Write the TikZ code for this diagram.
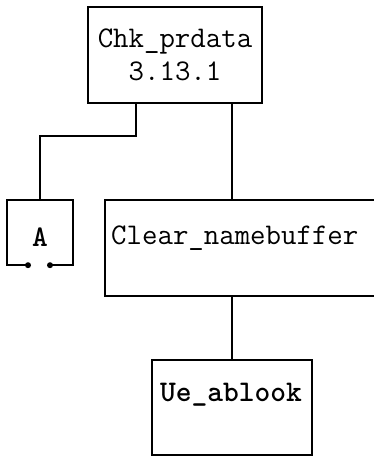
\documentclass[tikz,border=0pt]{standalone}
\usepackage{fontspec}
\usetikzlibrary{positioning}

\tikzset{
  modbox/.style={draw, line width=1.6pt, inner sep=0pt},
  modtext/.style={font=\ttfamily\fontsize{30}{33}\selectfont, inner sep=0pt},
  modbold/.style={font=\ttfamily\bfseries\fontsize{30}{33}\selectfont, inner sep=0pt},
  link/.style={line width=1.6pt},
}

\begin{document}
\begin{tikzpicture}[x=1pt, y=-1pt]
  % Fix the page to the reference size
  \useasboundingbox (0,0) rectangle (374,456);

  % Module boxes
  \node[modbox, modtext, align=center, minimum width=174pt, minimum height=96pt] (chk) at (175,55) {Chk\_prdata\\3.13.1};
  \node[modbox, minimum width=272pt, minimum height=96pt] (clear) at (241,248) {};
  \node[modtext, anchor=west] (cleartxt) at (111,238) {Clear\_namebuffer};
  \node[modbox, minimum width=160pt, minimum height=95pt] (ue) at (232,407.5) {};
  \node[modbold] (uetxt) at (231,395) {Ue\_ablook};

  % Off-page connector A, open at the bottom
  \node[minimum width=66pt, minimum height=65pt, inner sep=0pt] (abox) at (40,232.5) {};
  \node[modbold] (atxt) at (40,237) {A};
  \draw[link] ([xshift=-12pt]abox.south) -- (abox.south west) -- (abox.north west)
    -- (abox.north east) -- (abox.south east) -- ([xshift=10pt]abox.south);
  \fill ([xshift=-12pt]abox.south) circle (3pt);
  \fill ([xshift=10pt]abox.south) circle (3pt);

  % Connectors
  \draw[link] ([xshift=-39pt]chk.south) |- (abox.north |- 0,136) -- (abox.north);
  \draw[link] (ue.north |- chk.south) -- (ue.north |- clear.north);
  \draw[link] (ue.north |- clear.south) -- (ue.north);
\end{tikzpicture}
\end{document}
